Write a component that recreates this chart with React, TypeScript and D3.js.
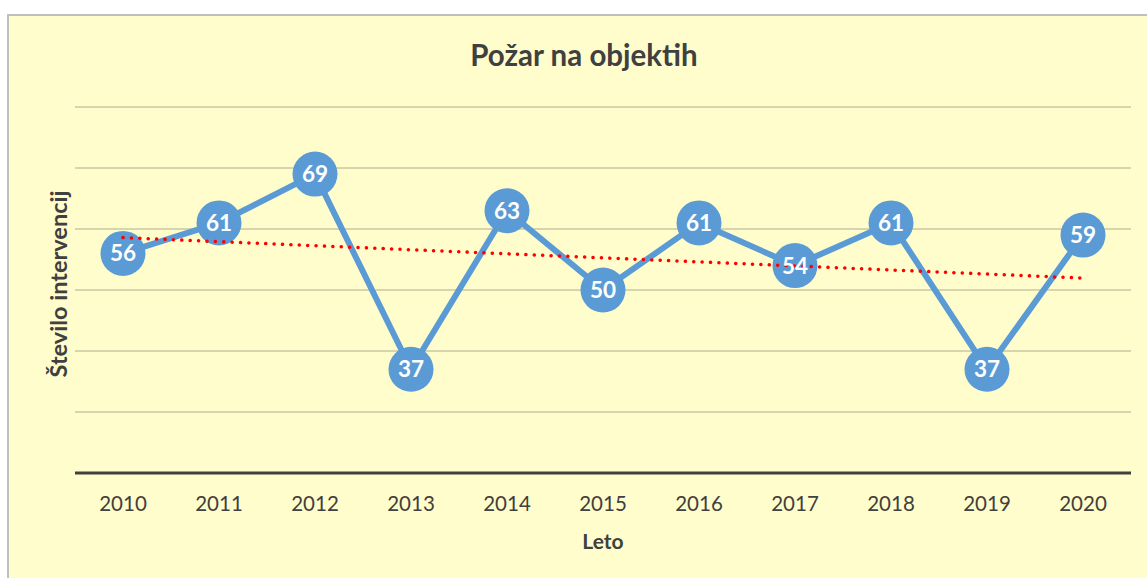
import React from "react";
import * as d3 from "d3";

const years = ["2010","2011","2012","2013","2014","2015","2016","2017","2018","2019","2020"];
const values = [56, 61, 69, 37, 63, 50, 61, 54, 61, 37, 59];
const gridTicks = [30, 40, 50, 60, 70, 80];
const title = "Požar na objektih";
const xTitle = "Leto";
const yTitle = "Število intervencij";

const W = 1147, H = 578;
const plot = { left: 75, right: 1131, top: 107, bottom: 473 };
const font = "Lato, 'Open Sans', sans-serif";
const textColor = "#404040";

export default function App() {
  const x = d3.scaleBand().domain(years).range([plot.left, plot.right]);
  const y = d3.scaleLinear().domain([20, 80]).range([plot.bottom, plot.top]);
  const cx = (d: string) => (x(d) as number) + x.bandwidth() / 2;

  const pts: [number, number][] = years.map((d, i) => [cx(d), y(values[i])]);
  const line = d3.line()(pts) as string;

  // linear trendline (least squares)
  const n = values.length;
  const xm = (n - 1) / 2;
  const ym = d3.mean(values) as number;
  let sxy = 0, sxx = 0;
  values.forEach((v, i) => { sxy += (i - xm) * (v - ym); sxx += (i - xm) ** 2; });
  const slope = sxy / sxx;
  const t0 = ym - slope * xm;
  const t1 = t0 + slope * (n - 1);

  return (
    <svg width={W} height={H} style={{ position: "absolute", left: 0, top: 0 }}>
      <rect x={8} y={15} width={1160} height={580} fill="#FFFDCC" stroke="#BFBFBF" strokeWidth={2} />
      <text x={584} y={66} textAnchor="middle" fontFamily={font} fontWeight="bold" fontSize={29.5} fill={textColor}>{title}</text>
      {gridTicks.map(t => (
        <line key={t} x1={plot.left} x2={plot.right} y1={y(t)} y2={y(t)} stroke="#C9C7A4" strokeWidth={1.5} />
      ))}
      <line x1={plot.left} x2={plot.right} y1={plot.bottom} y2={plot.bottom} stroke="#404040" strokeWidth={3} />
      {years.map(d => (
        <text key={d} x={cx(d)} y={511} textAnchor="middle" fontFamily={font} fontSize={20.5} fill={textColor}>{d}</text>
      ))}
      <text x={(plot.left + plot.right) / 2} y={549} textAnchor="middle" fontFamily={font} fontWeight="bold" fontSize={21} fill={textColor}>{xTitle}</text>
      <text transform={`translate(67, 284) rotate(-90)`} textAnchor="middle" fontFamily={font} fontWeight="bold" fontSize={23.5} fill={textColor}>{yTitle}</text>
      <path d={line} fill="none" stroke="#5B9BD5" strokeWidth={6} strokeLinejoin="round" />
      {pts.map((p, i) => (
        <circle key={i} cx={p[0]} cy={p[1]} r={22.5} fill="#5B9BD5" />
      ))}
      <line x1={cx(years[0])} x2={cx(years[n - 1])} y1={y(t0)} y2={y(t1)} stroke="#FF0000" strokeWidth={3.5} strokeLinecap="round" strokeDasharray="0.1 8.3" />
      {pts.map((p, i) => (
        <text key={i} x={p[0]} y={p[1] + 8} textAnchor="middle" fontFamily={font} fontWeight="bold" fontSize={22.5} fill="#FFFFFF">{values[i]}</text>
      ))}
    </svg>
  );
}
